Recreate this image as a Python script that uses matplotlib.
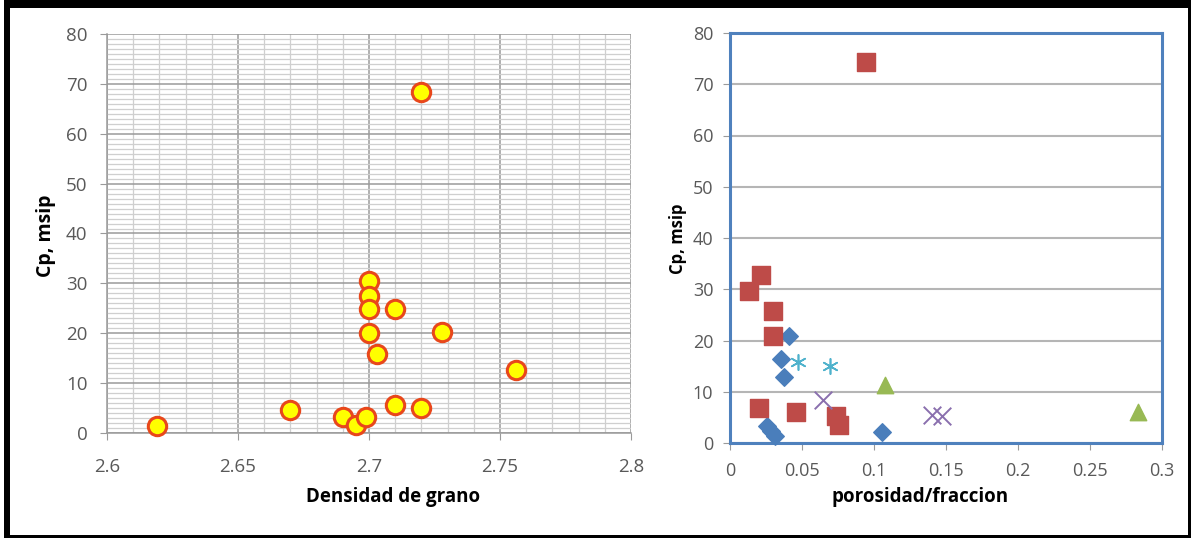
import numpy as np
import matplotlib
matplotlib.use("Agg")
import matplotlib.pyplot as plt
from matplotlib.patches import Rectangle
from matplotlib.ticker import MultipleLocator

plt.rcParams['font.family'] = ['Open Sans', 'DejaVu Sans']

# left panel: grain density vs Cp
dens = [2.619, 2.670, 2.690, 2.695, 2.699, 2.700, 2.700, 2.700, 2.700,
        2.703, 2.710, 2.710, 2.720, 2.720, 2.728, 2.756]
cp_dens = [1.4, 4.7, 3.2, 1.7, 3.3, 30.5, 27.4, 24.8, 20.1,
           15.9, 24.8, 5.7, 68.4, 5.0, 20.3, 12.6]

# right panel: porosity vs Cp, one list per series
por_sq = [0.0947, 0.0134, 0.0217, 0.0300, 0.0302, 0.0200, 0.0460, 0.0738, 0.0759]
cp_sq = [74.3, 29.6, 32.7, 25.8, 20.9, 6.9, 6.0, 5.2, 3.5]
por_di = [0.0412, 0.0354, 0.0372, 0.0260, 0.0285, 0.0313, 0.1056]
cp_di = [20.8, 16.3, 12.9, 3.4, 2.4, 1.3, 2.2]
por_ast = [0.0471, 0.0695]
cp_ast = [15.9, 15.0]
por_x = [0.0643, 0.1400, 0.1470]
cp_x = [8.4, 5.4, 5.2]
por_tri = [0.1077, 0.2830]
cp_tri = [11.3, 6.0]

W, H = 1193, 539
fig = plt.figure(figsize=(W / 100, H / 100), dpi=100)

tick_col = '#595959'

# ---------- left
ax1 = fig.add_axes([107 / W, (H - 433) / H, 524 / W, 399 / H])
ax1.set_xlim(2.6, 2.8)
ax1.set_ylim(0, 80)
ax1.xaxis.set_major_locator(MultipleLocator(0.05))
ax1.xaxis.set_minor_locator(MultipleLocator(0.01))
ax1.yaxis.set_major_locator(MultipleLocator(10))
ax1.yaxis.set_minor_locator(MultipleLocator(1))
ax1.set_xticks([2.6, 2.65, 2.7, 2.75, 2.8])
ax1.set_xticklabels(['2.6', '2.65', '2.7', '2.75', '2.8'])
ax1.grid(which='major', color='#9a9a9a', lw=1.1)
ax1.grid(which='minor', color='#cfcfcf', lw=0.9)
ax1.set_axisbelow(True)
for s in ['top', 'right']:
    ax1.spines[s].set_visible(False)
for s in ['left', 'bottom']:
    ax1.spines[s].set_color('#9a9a9a')
    ax1.spines[s].set_linewidth(1.1)
ax1.tick_params(which='major', length=5, color='#9a9a9a', labelcolor=tick_col,
                labelsize=13.5)
ax1.tick_params(axis='x', pad=13)
ax1.tick_params(axis='y', pad=9)
ax1.tick_params(which='minor', length=0)
ax1.scatter(dens, cp_dens, s=175, c='#ffff00', edgecolors='#e8471b',
            linewidths=2.2, zorder=3, clip_on=False)
ax1.set_xlabel('Densidad de grano', fontsize=13.5, fontweight='bold')
ax1.set_ylabel('Cp, msip', fontsize=14, fontweight='bold')
ax1.xaxis.label.set_va('center')
ax1.yaxis.label.set_va('center')
ax1.xaxis.set_label_coords(0.546, -0.16)
ax1.yaxis.set_label_coords(-0.116, 0.494)

# ---------- right
ax2 = fig.add_axes([730 / W, (H - 443) / H, 432 / W, 410 / H])
ax2.set_xlim(0, 0.3)
ax2.set_ylim(0, 80)
ax2.set_xticks([0, 0.05, 0.1, 0.15, 0.2, 0.25, 0.3])
ax2.set_xticklabels(['0', '0.05', '0.1', '0.15', '0.2', '0.25', '0.3'])
ax2.yaxis.set_major_locator(MultipleLocator(10))
ax2.grid(axis='y', color='#b5b5b5', lw=1.5)
ax2.set_axisbelow(True)
for s in ax2.spines.values():
    s.set_color('#4f81bd')
    s.set_linewidth(2.2)
ax2.tick_params(length=5, color='#9a9a9a', labelcolor=tick_col, labelsize=13)
ax2.tick_params(axis='x', pad=9)
ax2.tick_params(axis='y', pad=7)
ax2.scatter(por_di, cp_di, marker='D', s=80, c='#4a7ebb', zorder=3, clip_on=False)
ax2.scatter(por_sq, cp_sq, marker='s', s=160, c='#be4b48', zorder=3)
ax2.scatter(por_tri, cp_tri, marker='^', s=140, c='#98b954', zorder=3)
ax2.scatter(por_x, cp_x, marker='x', s=160, c='#8a6fae', linewidths=1.4, zorder=3)
ax2.scatter(por_ast, cp_ast, marker=(6, 2, 0), s=120, c='#4fb2cc',
            linewidths=1.2, zorder=3)
ax2.set_xlabel('porosidad/fraccion', fontsize=13.5, fontweight='bold')
ax2.set_ylabel('Cp, msip', fontsize=12, fontweight='bold')
ax2.xaxis.label.set_va('center')
ax2.yaxis.label.set_va('center')
ax2.xaxis.set_label_coords(0.44, -0.132)
ax2.yaxis.set_label_coords(-0.12, 0.4976)

# black frame around the whole picture
def band(x0, y0, x1, y1):
    fig.add_artist(Rectangle((x0 / W, 1 - y1 / H), (x1 - x0) / W, (y1 - y0) / H,
                             transform=fig.transFigure, color='black', lw=0))

band(4, 0, 1191, 8)
band(4, 0, 10, 538)
band(1188, 0, 1191, 538)
band(4, 535, 1191, 538)

fig.savefig('out.png', dpi=100)
